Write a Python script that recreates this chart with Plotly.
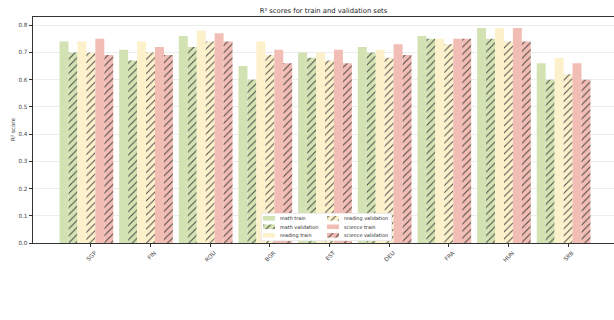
import plotly.graph_objects as go

# Countries and R² scores per subject / split
countries = ["SGP", "FIN", "ROU", "BGR", "EST", "DEU", "FRA", "HUN", "SRB"]
math_train = [0.74, 0.71, 0.76, 0.65, 0.70, 0.72, 0.76, 0.79, 0.66]
math_val = [0.70, 0.67, 0.72, 0.60, 0.68, 0.70, 0.75, 0.75, 0.60]
reading_train = [0.74, 0.74, 0.78, 0.74, 0.70, 0.71, 0.75, 0.79, 0.68]
reading_val = [0.70, 0.70, 0.74, 0.69, 0.67, 0.68, 0.73, 0.74, 0.62]
science_train = [0.75, 0.72, 0.77, 0.71, 0.71, 0.73, 0.75, 0.79, 0.66]
science_val = [0.69, 0.69, 0.74, 0.66, 0.66, 0.69, 0.75, 0.74, 0.60]
y_ticks = [0.0, 0.1, 0.2, 0.3, 0.4, 0.5, 0.6, 0.7, 0.8]

GREEN = "#d3e2b2"
YELLOW = "#fcf1cb"
RED = "#f2bdb4"
HATCH = "#2e2e2e"
FONT = "DejaVu Sans"

series = [
    ("math train", math_train, GREEN, False),
    ("math validation", math_val, GREEN, True),
    ("reading train", reading_train, YELLOW, False),
    ("reading validation", reading_val, YELLOW, True),
    ("science train", science_train, RED, False),
    ("science validation", science_val, RED, True),
]

W, H = 614, 320
ML, MR, MT, MB = 33, 0, 17, 77
plot_w = W - ML - MR
plot_h = H - MT - MB


def pattern(color, hatched):
    if hatched:
        return dict(shape="/", fillmode="overlay", bgcolor=color, fgcolor=HATCH,
                    fgopacity=0.85, size=5, solidity=0.2)
    return dict(shape="")


xs = list(range(len(countries)))
fig = go.Figure()
for name, vals, color, hatched in series:
    fig.add_trace(go.Bar(
        x=xs, y=vals, name=name, showlegend=False,
        marker=dict(color=color, line=dict(width=0), pattern=pattern(color, hatched)),
    ))

# Legend box, drawn on a small pixel-scaled helper subplot
LEG_L, LEG_R, LEG_T, LEG_B = 261, 392, 213, 241
ROW_Y = [218.3, 226.8, 235.3]
COL_SW = [263, 327]
SW_W, SW_H = 12, 4.6
TEXT_DX = 14.5

fig.add_trace(go.Bar(
    x=[(LEG_L + LEG_R) / 2], y=[LEG_B - LEG_T], base=[LEG_T], width=[LEG_R - LEG_L],
    offset=-(LEG_R - LEG_L) / 2, xaxis="x2", yaxis="y2", showlegend=False,
    hoverinfo="skip",
    marker=dict(color="rgba(255,255,255,0.8)", line=dict(color="#d0d0d0", width=0.8),
                cornerradius=2),
))
annotations = []
for k, (name, vals, color, hatched) in enumerate(series):
    col, row = divmod(k, 3)
    x0 = COL_SW[col]
    yc = ROW_Y[row]
    fig.add_trace(go.Bar(
        x=[x0 + SW_W / 2], y=[SW_H], base=[yc - SW_H / 2], width=[SW_W], offset=-SW_W / 2,
        xaxis="x2", yaxis="y2", showlegend=False, hoverinfo="skip",
        marker=dict(color=color, line=dict(width=0), pattern=pattern(color, hatched)),
    ))
    annotations.append(dict(
        x=x0 + TEXT_DX, y=yc, xref="x2", yref="y2", text=name, showarrow=False,
        xanchor="left", yanchor="middle", font=dict(family=FONT, size=4.9, color="#2a2a2a"),
    ))

annotations.append(dict(
    x=(13 - ML) / plot_w, y=0.5, xref="paper", yref="paper", text="R² score",
    textangle=-90, showarrow=False, xanchor="center", yanchor="middle",
    font=dict(family=FONT, size=5.6, color="#333"),
))

tick_font = dict(family=FONT, size=5.7, color="#444")
fig.update_layout(
    width=W, height=H,
    margin=dict(l=ML, r=MR, t=MT, b=MB, pad=0),
    paper_bgcolor="white", plot_bgcolor="white",
    barmode="group", bargap=0.1, bargroupgap=0,
    title=dict(text="R² scores for train and validation sets", x=0.5, xref="paper",
               xanchor="center", y=1 - 11 / H, yanchor="middle",
               font=dict(family=FONT, size=6.8, color="#222")),
    xaxis=dict(
        range=[-0.895, len(countries) - 0.155],
        tickvals=[i + 0.075 for i in xs], ticktext=countries, tickangle=-45,
        ticks="outside", ticklen=3.5, tickwidth=0.8, tickcolor="#333",
        showline=True, linecolor="#333", linewidth=0.8, mirror=True,
        showgrid=False, zeroline=False, tickfont=tick_font, ticklabelshift=4,
    ),
    yaxis=dict(
        range=[0, 0.83], tickvals=y_ticks, tickformat=".1f",
        ticks="outside", ticklen=3.5, tickwidth=0.8, tickcolor="#333",
        showline=True, linecolor="#333", linewidth=0.8,
        showgrid=True, gridcolor="#ececec", gridwidth=0.8, zeroline=False,
        tickfont=tick_font,
    ),
    xaxis2=dict(domain=[(LEG_L - ML) / plot_w, (LEG_R - ML) / plot_w], range=[LEG_L, LEG_R],
                anchor="y2", visible=False, fixedrange=True),
    yaxis2=dict(domain=[(H - MB - LEG_B) / plot_h, (H - MB - LEG_T) / plot_h],
                range=[LEG_B, LEG_T], anchor="x2", visible=False, fixedrange=True),
    annotations=annotations,
    showlegend=False,
)

fig.write_html("out.html")
